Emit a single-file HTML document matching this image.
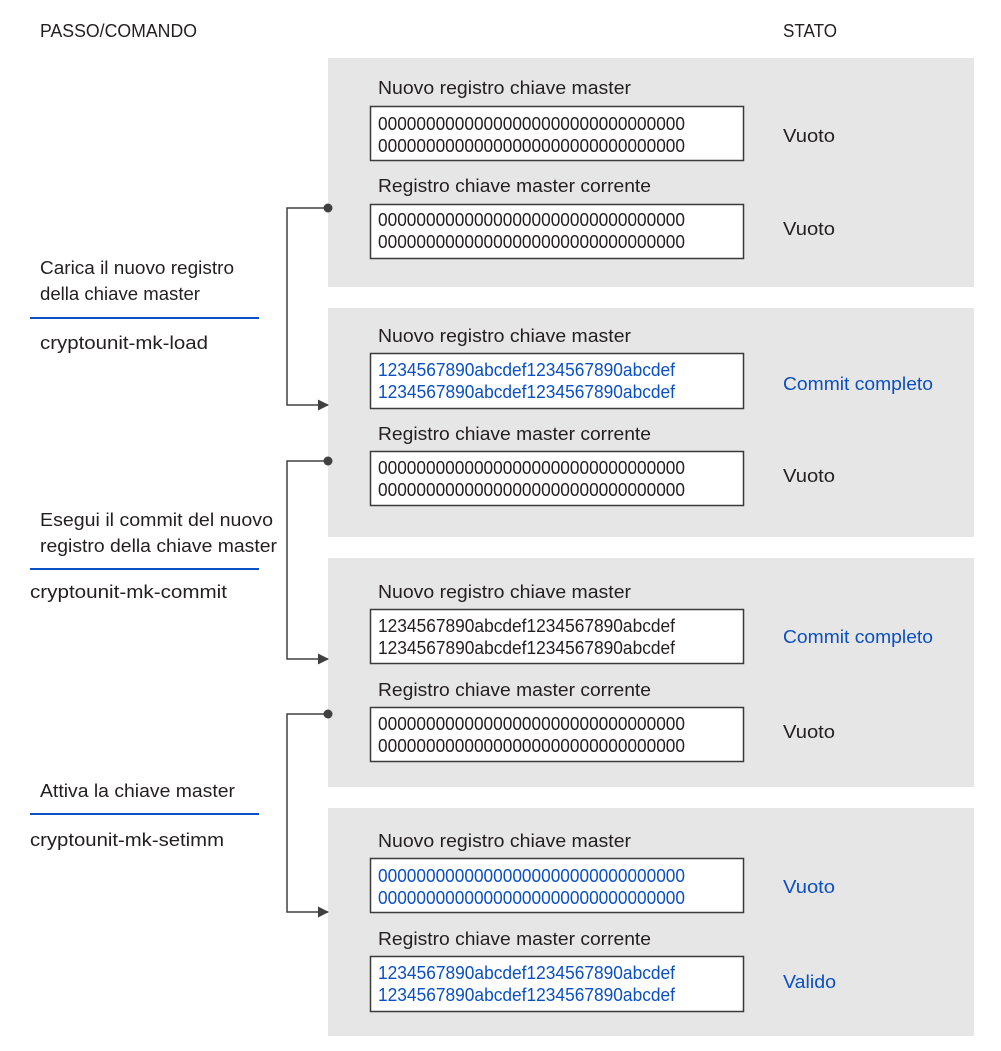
<!DOCTYPE html>
<html><head><meta charset="utf-8"><style>
html,body{margin:0;padding:0;background:#fff;}
svg{display:block;}
text{font-family:"Liberation Sans",sans-serif;font-size:18px;fill:#231f20;}
.b{fill:#0a4fc4;}
</style></head><body>
<svg width="1001" height="1051" viewBox="0 0 1001 1051" xmlns="http://www.w3.org/2000/svg">
<defs><marker id="ar" markerWidth="11" markerHeight="11" refX="10" refY="5.5" orient="auto" markerUnits="userSpaceOnUse"><path d="M0,0 L11,5.5 L0,11 z" fill="#404040"/></marker></defs>
<text x="40" y="37" textLength="157" lengthAdjust="spacingAndGlyphs">PASSO/COMANDO</text>
<text x="783" y="37" textLength="54" lengthAdjust="spacingAndGlyphs">STATO</text>

<rect x="328" y="58" width="646" height="229" fill="#e6e6e6"/>
<rect x="328" y="308" width="646" height="229" fill="#e6e6e6"/>
<rect x="328" y="558" width="646" height="229" fill="#e6e6e6"/>
<rect x="328" y="808" width="646" height="228" fill="#e6e6e6"/>

<g stroke="#3a3a3a" stroke-width="1.5" fill="#fff">
<rect x="370.5" y="106.5" width="373" height="54"/>
<rect x="370.5" y="204.5" width="373" height="54"/>
<rect x="370.5" y="353.5" width="373" height="55"/>
<rect x="370.5" y="451.5" width="373" height="54"/>
<rect x="370.5" y="609.5" width="373" height="54"/>
<rect x="370.5" y="707.5" width="373" height="54"/>
<rect x="370.5" y="858.5" width="373" height="54"/>
<rect x="370.5" y="956.5" width="373" height="55"/>
</g>

<text x="378" y="94" textLength="253" lengthAdjust="spacingAndGlyphs">Nuovo registro chiave master</text>
<text x="378" y="130" textLength="307" lengthAdjust="spacingAndGlyphs">00000000000000000000000000000000</text>
<text x="378" y="152" textLength="307" lengthAdjust="spacingAndGlyphs">00000000000000000000000000000000</text>
<text x="783" y="142" textLength="52" lengthAdjust="spacingAndGlyphs">Vuoto</text>
<text x="378" y="192" textLength="273" lengthAdjust="spacingAndGlyphs">Registro chiave master corrente</text>
<text x="378" y="226" textLength="307" lengthAdjust="spacingAndGlyphs">00000000000000000000000000000000</text>
<text x="378" y="248" textLength="307" lengthAdjust="spacingAndGlyphs">00000000000000000000000000000000</text>
<text x="783" y="235" textLength="52" lengthAdjust="spacingAndGlyphs">Vuoto</text>

<text x="378" y="342" textLength="253" lengthAdjust="spacingAndGlyphs">Nuovo registro chiave master</text>
<text class="b" x="378" y="376" textLength="297" lengthAdjust="spacingAndGlyphs">1234567890abcdef1234567890abcdef</text>
<text class="b" x="378" y="398" textLength="297" lengthAdjust="spacingAndGlyphs">1234567890abcdef1234567890abcdef</text>
<text class="b" x="783" y="390" textLength="150" lengthAdjust="spacingAndGlyphs">Commit completo</text>
<text x="378" y="440" textLength="273" lengthAdjust="spacingAndGlyphs">Registro chiave master corrente</text>
<text x="378" y="474" textLength="307" lengthAdjust="spacingAndGlyphs">00000000000000000000000000000000</text>
<text x="378" y="496" textLength="307" lengthAdjust="spacingAndGlyphs">00000000000000000000000000000000</text>
<text x="783" y="482" textLength="52" lengthAdjust="spacingAndGlyphs">Vuoto</text>

<text x="378" y="598" textLength="253" lengthAdjust="spacingAndGlyphs">Nuovo registro chiave master</text>
<text x="378" y="632" textLength="297" lengthAdjust="spacingAndGlyphs">1234567890abcdef1234567890abcdef</text>
<text x="378" y="654" textLength="297" lengthAdjust="spacingAndGlyphs">1234567890abcdef1234567890abcdef</text>
<text class="b" x="783" y="643" textLength="150" lengthAdjust="spacingAndGlyphs">Commit completo</text>
<text x="378" y="696" textLength="273" lengthAdjust="spacingAndGlyphs">Registro chiave master corrente</text>
<text x="378" y="730" textLength="307" lengthAdjust="spacingAndGlyphs">00000000000000000000000000000000</text>
<text x="378" y="752" textLength="307" lengthAdjust="spacingAndGlyphs">00000000000000000000000000000000</text>
<text x="783" y="738" textLength="52" lengthAdjust="spacingAndGlyphs">Vuoto</text>

<text x="378" y="847" textLength="253" lengthAdjust="spacingAndGlyphs">Nuovo registro chiave master</text>
<text class="b" x="378" y="882" textLength="307" lengthAdjust="spacingAndGlyphs">00000000000000000000000000000000</text>
<text class="b" x="378" y="904" textLength="307" lengthAdjust="spacingAndGlyphs">00000000000000000000000000000000</text>
<text class="b" x="783" y="893" textLength="52" lengthAdjust="spacingAndGlyphs">Vuoto</text>
<text x="378" y="945" textLength="273" lengthAdjust="spacingAndGlyphs">Registro chiave master corrente</text>
<text class="b" x="378" y="979" textLength="297" lengthAdjust="spacingAndGlyphs">1234567890abcdef1234567890abcdef</text>
<text class="b" x="378" y="1001" textLength="297" lengthAdjust="spacingAndGlyphs">1234567890abcdef1234567890abcdef</text>
<text class="b" x="783" y="988" textLength="53" lengthAdjust="spacingAndGlyphs">Valido</text>

<g stroke="#404040" stroke-width="1.5" fill="none">
<path d="M328,208 H287 V405 H328" marker-end="url(#ar)"/>
<path d="M328,461 H287 V659 H328" marker-end="url(#ar)"/>
<path d="M328,714 H287 V912 H328" marker-end="url(#ar)"/>
</g>
<g fill="#404040">
<circle cx="328" cy="208" r="4.5"/>
<circle cx="328" cy="461" r="4.5"/>
<circle cx="328" cy="714" r="4.5"/>
</g>

<text x="40" y="274" textLength="194" lengthAdjust="spacingAndGlyphs">Carica il nuovo registro</text>
<text x="40" y="300" textLength="160" lengthAdjust="spacingAndGlyphs">della chiave master</text>
<line x1="30" y1="318" x2="259" y2="318" stroke="#0a4fc4" stroke-width="2"/>
<text x="40" y="349" textLength="168" lengthAdjust="spacingAndGlyphs">cryptounit-mk-load</text>

<text x="40" y="526" textLength="233" lengthAdjust="spacingAndGlyphs">Esegui il commit del nuovo</text>
<text x="40" y="552" textLength="237" lengthAdjust="spacingAndGlyphs">registro della chiave master</text>
<line x1="30" y1="569" x2="259" y2="569" stroke="#0a4fc4" stroke-width="2"/>
<text x="30" y="598" textLength="197" lengthAdjust="spacingAndGlyphs">cryptounit-mk-commit</text>

<text x="40" y="797" textLength="195" lengthAdjust="spacingAndGlyphs">Attiva la chiave master</text>
<line x1="30" y1="814" x2="259" y2="814" stroke="#0a4fc4" stroke-width="2"/>
<text x="30" y="846" textLength="194" lengthAdjust="spacingAndGlyphs">cryptounit-mk-setimm</text>
</svg>
</body></html>
